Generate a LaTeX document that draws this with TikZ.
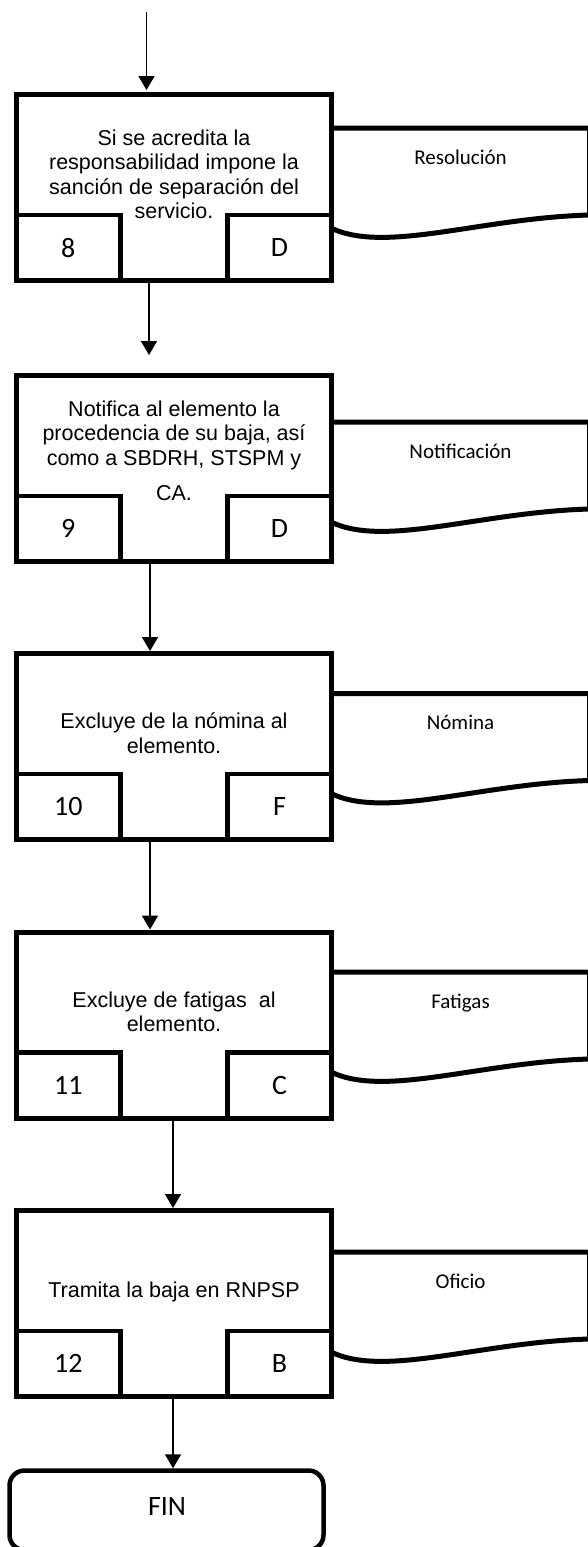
\documentclass[tikz,border=0pt]{standalone}
\usepackage{fontspec}
\setmainfont{Liberation Sans}
\newfontfamily\calfont{Carlito}
\usetikzlibrary{arrows.meta}
\tikzset{
  procbox/.style={draw, line width=5pt, minimum width=315pt, minimum height=186pt, inner sep=0pt},
  numbox/.style={draw, line width=4.5pt, minimum width=104.5pt, minimum height=65.5pt, inner sep=0pt,
    font=\calfont\fontsize{28}{30}\selectfont},
  boxtext/.style={inner sep=0pt, align=center, font=\fontsize{21.5}{24.5}\selectfont},
  doclabel/.style={inner sep=0pt, font=\calfont\fontsize{21}{24}\selectfont},
  docline/.style={line width=5pt, line join=miter},
  arr/.style={line width=1.6pt, -{Triangle[width=16pt,length=14pt]}},
  finbox/.style={draw, line width=4.5pt, rounded corners=15pt, minimum width=314pt, minimum height=79.5pt,
    inner sep=0pt},
  fintext/.style={inner sep=0pt, font=\calfont\fontsize{28}{30}\selectfont}
}
% #1 index, #2 top, #3 text, #4 first baseline offset, #5 number, #6 letter, #7 doc top offset, #8 doc label
\newcommand\procstep[8]{%
  \draw[docline] (331,#2+#7) -- (589.5,#2+#7) -- (589.5,#2+#7+87)
     .. controls (480,#2+#7+90) and (385,#2+#7+126) .. (331,#2+#7+100);
  \node[doclabel, anchor=base] (d#1) at (460.5,#2+#7+36) {#8};
  \node[procbox] (b#1) at (173.5,#2+93) {};
  \node[numbox] (n#1) at (68.25,#2+153.25) {#5};
  \node[numbox] (l#1) at (279.5,#2+153.25) {#6};
  \node[boxtext, anchor=north] (t#1) at (174,#2+#4-16) {\rule{0pt}{16pt}#3};
}
\begin{document}
\begin{tikzpicture}[x=1pt,y=-1pt]
\useasboundingbox (0,0) rectangle (588,1547);
\clip (0,0) rectangle (588,1547);
\fill[white] (0,0) rectangle (588,1547);

\procstep{1}{94.5}{Si se acredita la\\responsabilidad impone la\\sanción de separación del\\servicio.}{50.5}{8}{D}{33.5}{Resolución}
\procstep{2}{375.5}{Notifica al elemento la\\procedencia de su baja, así\\como a SBDRH, STSPM y\\[11pt]CA.}{40.5}{9}{D}{46.5}{Notificación}
\procstep{3}{653.5}{Excluye de la nómina al\\elemento.}{75}{10}{F}{40}{Nómina}
\procstep{4}{932}{Excluye de fatigas~ al\\elemento.}{75}{11}{C}{40}{Fatigas}
\procstep{5}{1210.5}{Tramita la baja en RNPSP}{86.5}{12}{B}{41.5}{Oficio}

\node[finbox] (fin) at (166.5,1510.25) {};
\node[fintext] (fint) at (167,1506) {FIN};

\coordinate (start) at (146.5,12);
\draw[arr, shorten >=2pt] (start) -- ([xshift=-27pt]b1.north);
\draw[arr, shorten >=18pt] ([xshift=-24.5pt]b1.south) -- ([xshift=-24.5pt]b2.north);
\draw[arr] ([xshift=-23.5pt]b2.south) -- ([xshift=-23.5pt]b3.north);
\draw[arr] ([xshift=-23.5pt]b3.south) -- ([xshift=-23.5pt]b4.north);
\draw[arr] ([xshift=-0.5pt]b4.south) -- ([xshift=-0.5pt]b5.north);
\draw[arr] ([xshift=-0.5pt]b5.south) -- ([xshift=6.5pt]fin.north);
\end{tikzpicture}
\end{document}
